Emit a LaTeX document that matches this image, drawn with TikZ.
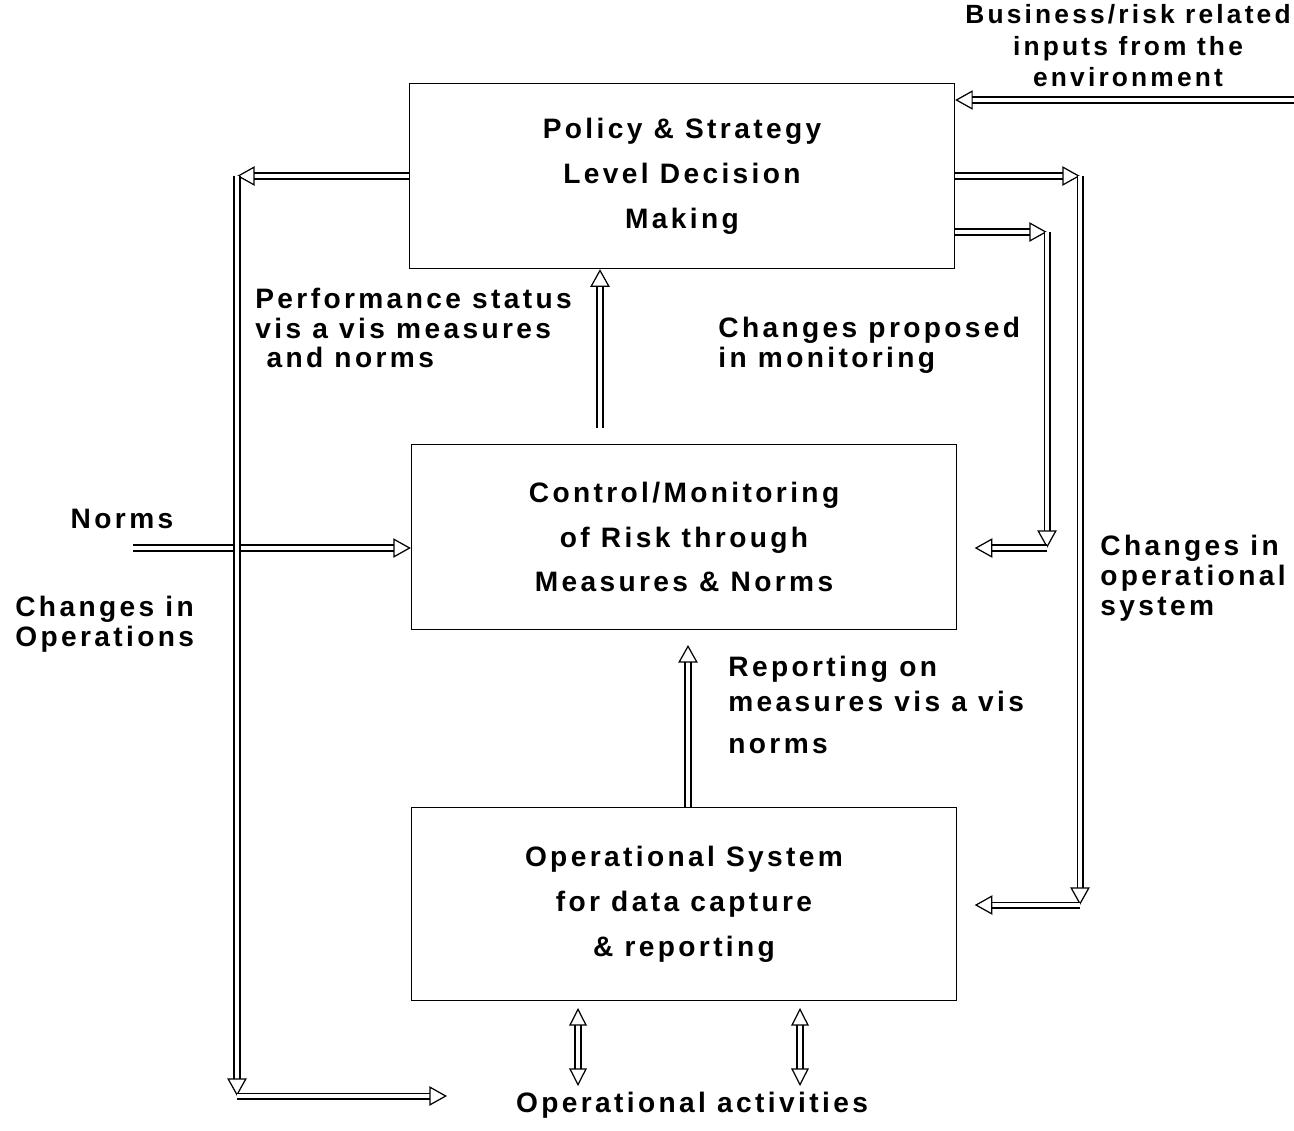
\documentclass[tikz,border=0pt]{standalone}
\usepackage{fontspec}
\setmainfont{Liberation Sans}[LetterSpace=12]
\usetikzlibrary{arrows.meta, positioning}

\begin{document}
\begin{tikzpicture}[x=0.02cm, y=-0.02cm,
    block/.style={rectangle, draw, thick, minimum width=10.9cm, minimum height=3.7cm, align=center, font=\fontsize{16}{25.5}\selectfont\bfseries},
    lbl/.style={align=left, anchor=west, inner sep=0pt, font=\fontsize{16}{17}\selectfont\bfseries},
    arrow/.style={double, double distance=2.6pt, line width=0.7pt, -{Triangle[open, length=10pt, width=11pt]}},
    both/.style={double, double distance=2.6pt, line width=0.7pt, {Triangle[open, length=10pt, width=10pt]}-{Triangle[open, length=10pt, width=10pt]}}
]
\useasboundingbox (0,0) rectangle (1294,1130);

% Blocks
\node[block] (policy) at (682, 176) {Policy \& Strategy\\Level Decision\\Making};
\node[block] (monitor) at (684, 537) {Control/Monitoring\\of Risk through\\Measures \& Norms};
\node[block, minimum height=3.85cm] (ops) at (684, 904) {Operational System\\for data capture\\\& reporting};

% Labels
\node[lbl, align=center, anchor=north east, font=\fontsize{15}{18}\selectfont\bfseries] (env) at (1291, 4) {Business/risk related\\inputs from the\\environment};
\node[lbl] (perf) at (255, 328) {Performance status\\vis a vis measures\\\hspace*{0.4em}and norms};
\node[lbl] (prop) at (718, 345) {Changes proposed\\in monitoring};
\node[lbl, anchor=center] (norms) at (122, 519) {Norms};
\node[lbl] (chops) at (15, 624) {Changes in\\Operations};
\node[lbl] (chsys) at (1100, 578) {Changes in\\operational\\system};
\node[lbl, font=\fontsize{16}{20}\selectfont\bfseries] (rep) at (728, 705) {Reporting on\\measures vis a vis\\[4pt]norms};
\node[lbl, anchor=center] (acts) at (692, 1105) {Operational activities};

% Free ends
\coordinate (envin) at (1294, 100);
\coordinate (normsin) at (133, 548);
\coordinate (ltop) at (237, 176);
\coordinate (lbot) at (237, 1096);
\coordinate (actin) at (447, 1096);
\coordinate (rtop) at (1080, 176);
\coordinate (rbot) at (1080, 905);
\coordinate (rmid) at (1047, 232);
\coordinate (rmidb) at (1047, 548);
\coordinate (up1) at (600, 428);
\coordinate (up2) at (688, 645);
\coordinate (act1) at (578, 1086);
\coordinate (act2) at (800, 1086);

% Arrows
\draw[arrow] (envin) -- (policy.east |- envin);
\draw[arrow] (normsin) -- (monitor.west |- normsin);
\draw[arrow] (policy.west) -- (ltop);
\draw[arrow] (ltop) -- (lbot);
\draw[arrow] (lbot) -- (actin);
\draw[arrow] (up1) -- (up1 |- policy.south);
\draw[arrow] (ops.north -| up2) -- (up2);
\draw[arrow] (policy.east) -- (rtop);
\draw[arrow] (rtop) -- (rbot);
\draw[arrow, shorten >=10pt] (rbot) -- (ops.east |- rbot);
\draw[arrow] (policy.east |- rmid) -- (rmid);
\draw[arrow] (rmid) -- (rmidb);
\draw[arrow, shorten >=10pt] (rmidb) -- (monitor.east |- rmidb);
\draw[both, shorten <=4pt] (ops.south -| act1) -- (act1);
\draw[both, shorten <=4pt] (ops.south -| act2) -- (act2);

\end{tikzpicture}
\end{document}
